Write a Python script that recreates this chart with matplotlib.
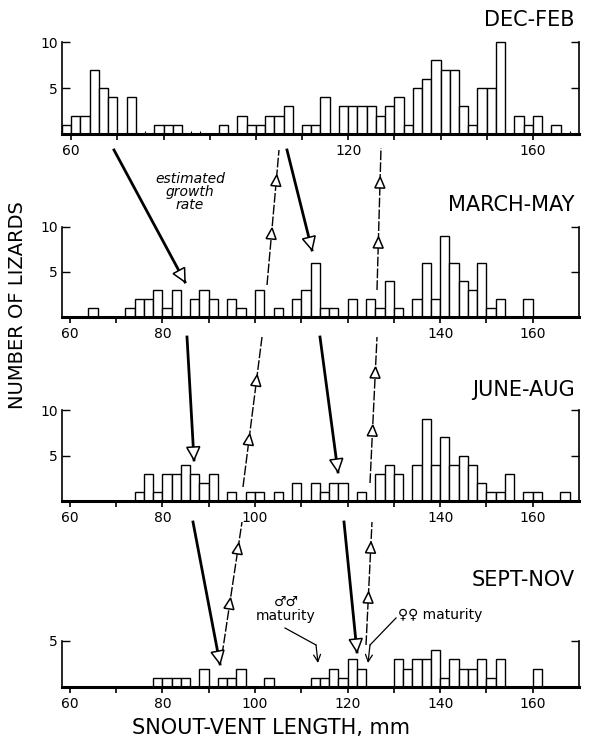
import numpy as np
import matplotlib
matplotlib.use("Agg")
import matplotlib.pyplot as plt
from matplotlib.lines import Line2D
from matplotlib.patches import Polygon, FancyArrowPatch

W, H = 593, 743
BIN = 2

# lizards per 2 mm snout-vent length class; *_start is the first class edge (mm)
dec_feb_start = 58
dec_feb = [1, 2, 2, 7, 5, 4, 0, 4, 0, 0, 1, 1, 1, 0, 0, 0, 0, 1, 0, 2, 1, 1, 2, 2, 3, 0, 1,
           1, 4, 0, 3, 3, 3, 3, 2, 3, 4, 1, 5, 6, 8, 7, 7, 3, 1, 5, 5, 10, 0, 2, 1, 2, 0, 1]
march_may_start = 64
march_may = [1, 0, 0, 0, 1, 2, 2, 3, 1, 3, 0, 2, 3, 2, 0, 2, 1, 0, 3, 0, 1, 0, 2, 3,
             6, 1, 1, 0, 2, 0, 2, 1, 4, 1, 0, 2, 6, 2, 9, 6, 4, 3, 6, 1, 2, 0, 0, 2]
june_aug_start = 74
june_aug = [1, 3, 1, 3, 3, 4, 3, 2, 3, 0, 1, 0, 1, 1, 0, 1, 0, 2, 0, 2, 1, 2, 2, 0,
            1, 0, 3, 4, 3, 0, 4, 9, 4, 7, 4, 5, 4, 2, 1, 1, 3, 0, 1, 1, 0, 0, 1]
sept_nov_start = 78
sept_nov = [1, 1, 1, 1, 0, 2, 0, 1, 1, 2, 0, 0, 1, 0, 0, 0, 0, 1, 1, 2, 1, 3, 2, 0,
            0, 0, 3, 2, 3, 3, 4, 1, 3, 2, 2, 3, 1, 3, 0, 0, 0, 2]

seasons = ["DEC-FEB", "MARCH-MAY", "JUNE-AUG", "SEPT-NOV"]
x_ticks = list(range(60, 170, 10))
x_labels_shown = [[60, 120, 160], [60, 80, 140, 160],
                  [60, 80, 100, 140, 160], [60, 80, 100, 120, 140, 160]]
y_ticks = [[5, 10], [5, 10], [5, 10], [5]]

# page layout in pixels: (top of y axis, baseline, title y)
rows = [(42, 134, 20), (227, 317, 205), (410, 501, 390), (641, 687, 580)]
AX_L, AX_R = 62, 579
XLIM = (58.3, 170.0)

# growth-rate arrows, page pixels
thick_arrows = [((114, 150), (185, 282)), ((287, 150), (312, 250)),
                ((187, 337), (194, 460)), ((320, 337), (338, 472)),
                ((193, 522), (220, 664)), ((344, 522), (357, 652))]
thin_arrows = [((267, 285), (279, 150), [228, 175]),
               ((377, 290), (381, 148), [237, 177]),
               ((243, 487), (262, 337), [434, 375]),
               ((370, 483), (377, 337), [425, 367]),
               ((222, 655), (242, 522), [598, 543]),
               ((366, 645), (372, 522), [592, 542])]


def fp(x, y):
    return x / W, 1 - y / H


plt.rcParams["font.family"] = "DejaVu Sans"
fig = plt.figure(figsize=(W / 100, H / 100), dpi=100)

data = [(dec_feb_start, dec_feb), (march_may_start, march_may),
        (june_aug_start, june_aug), (sept_nov_start, sept_nov)]

for i, (start, counts) in enumerate(data):
    top, base, ty = rows[i]
    ax = fig.add_axes([AX_L / W, 1 - base / H, (AX_R - AX_L) / W, (base - top) / H])
    edges = start + BIN * np.arange(len(counts))
    bars = ax.bar(edges, counts, width=BIN, align="edge", facecolor="white",
                  edgecolor="black", linewidth=1.0, zorder=2)
    for b in bars:
        b.set_clip_on(False)
    ax.set_xlim(*XLIM)
    ax.set_ylim(0, max(y_ticks[i]))

    ax.spines["top"].set_visible(False)
    ax.spines["left"].set_linewidth(1.2)
    ax.spines["right"].set_linewidth(1.2)
    ax.spines["bottom"].set_linewidth(2.2)

    ax.set_xticks(x_ticks)
    ax.set_xticklabels([str(t) if t in x_labels_shown[i] else "" for t in x_ticks])
    ax.tick_params(axis="x", direction="out", length=4, width=1.2, pad=3, labelsize=10)
    if i == 0:
        ax.set_xticks(np.arange(58, 170, 2), minor=True)
        ax.tick_params(axis="x", which="minor", direction="in", length=2.5, width=0.8)

    ax.set_yticks(y_ticks[i])
    ax.set_yticklabels([str(v) for v in y_ticks[i]])
    ax.tick_params(axis="y", direction="in", length=6, width=1.0, left=True,
                   right=True, labelsize=10, pad=3)

    fig.text(*fp(575, ty), seasons[i], ha="right", va="center", fontsize=15)


def head(tip, start, length, half):
    tx, ty = tip
    dx, dy = tx - start[0], ty - start[1]
    n = np.hypot(dx, dy)
    ux, uy = dx / n, dy / n
    bx, by = tx - length * ux, ty - length * uy
    pts = [(tx, ty), (bx - half * uy, by + half * ux), (bx + half * uy, by - half * ux)]
    fig.add_artist(Polygon([fp(*p) for p in pts], closed=True, transform=fig.transFigure,
                           facecolor="white", edgecolor="black", lw=1.1, zorder=5))


def line(a, b, lw, ls="-"):
    (x0, y0), (x1, y1) = fp(*a), fp(*b)
    fig.add_artist(Line2D([x0, x1], [y0, y1], transform=fig.transFigure,
                          color="black", lw=lw, ls=ls, zorder=4))


for s, e in thick_arrows:
    line(s, e, 2.0)
    head(e, s, 13, 6.5)

for s, e, tips in thin_arrows:
    line(s, e, 1.0, (0, (7, 1.5)))
    for ty in tips:
        t = (s[1] - ty) / (s[1] - e[1])
        tip = (s[0] + t * (e[0] - s[0]), ty)
        head(tip, s, 11, 5)

# maturity pointers
line((285, 628), (316, 645), 0.9)
fig.add_artist(FancyArrowPatch(fp(316, 645), fp(318, 663), transform=fig.transFigure,
                               arrowstyle="->,head_length=0.5,head_width=0.25",
                               mutation_scale=10, lw=0.9, color="black", shrinkA=0, shrinkB=0))
line((396, 618), (370, 645), 0.9)
fig.add_artist(FancyArrowPatch(fp(370, 645), fp(368, 663), transform=fig.transFigure,
                               arrowstyle="->,head_length=0.5,head_width=0.25",
                               mutation_scale=10, lw=0.9, color="black", shrinkA=0, shrinkB=0))

fig.text(*fp(286, 609), "♂♂\nmaturity", ha="center", va="center", fontsize=10,
         linespacing=1.0)
fig.text(*fp(398, 615), "♀♀ maturity", ha="left", va="center", fontsize=10)
fig.text(*fp(190, 192), "estimated\ngrowth\nrate", ha="center", va="center",
         fontsize=10, style="italic", linespacing=0.95)

fig.text(*fp(271, 728), "SNOUT-VENT LENGTH, mm", ha="center", va="center", fontsize=15)
fig.text(*fp(18, 305), "NUMBER OF LIZARDS", rotation=90, ha="center", va="center",
         fontsize=14)

fig.savefig("out.png", dpi=100)
